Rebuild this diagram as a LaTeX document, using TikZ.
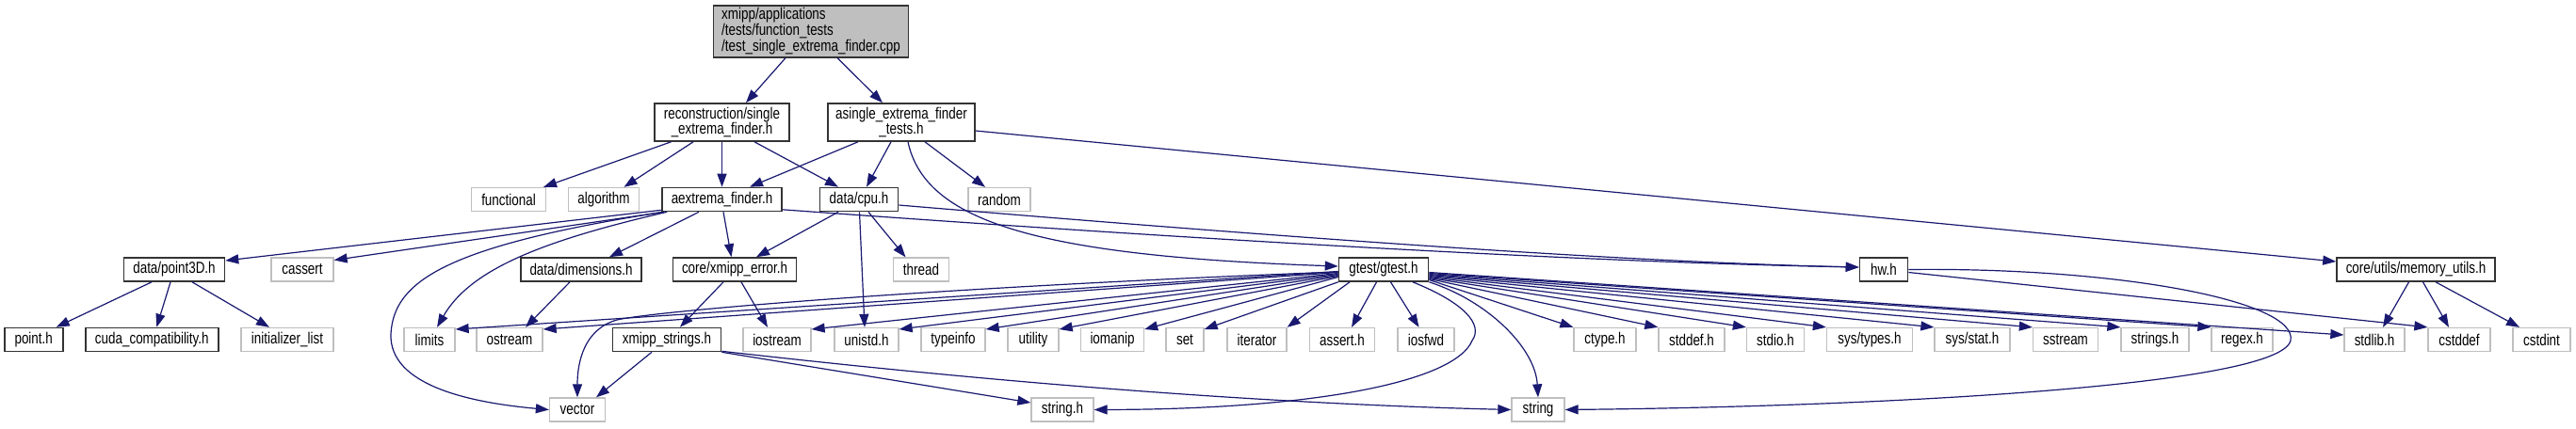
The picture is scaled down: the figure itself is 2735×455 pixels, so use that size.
\documentclass[tikz,border=0pt]{standalone}
\usepackage{fontspec}
\setmainfont{Liberation Sans}[FakeStretch=0.79]
\usetikzlibrary{arrows.meta}
\definecolor{edgeblue}{HTML}{191970}
\definecolor{extgray}{HTML}{BFBFBF}

\begin{document}
\begin{tikzpicture}[x=1pt,y=-1pt,>={Triangle[length=14pt,width=10pt]},
 font=\fontsize{17}{14.4}\selectfont,
 box/.style={draw,rectangle,inner sep=0pt,minimum height=25pt,text=black},
 doc/.style={box,draw=black!80,line width=1.6pt},
 ext/.style={box,draw=extgray,line width=1.3pt},
 dep/.style={->,draw=edgeblue,line width=1.2pt}]
\useasboundingbox[fill=white] (0,0) rectangle (2735,455);

% top file and its direct includes
\node[doc,fill=extgray,minimum width=207pt,minimum height=55pt,align=left] (root) at (861,33.3)
 {xmipp/applications\\/tests/function\_tests\\/test\_single\_extrema\_finder.cpp};
\node[doc,minimum width=143pt,minimum height=40pt,align=center] (recon) at (766.5,130) {reconstruction/single\\\_extrema\_finder.h};
\node[doc,minimum width=156pt,minimum height=40pt,align=center] (asingle) at (957,130) {asingle\_extrema\_finder\\\_tests.h};

\node[ext,minimum width=79pt] (functional) at (540,212) {functional};
\node[ext,minimum width=75pt] (algorithm) at (641,212) {algorithm};
\node[doc,minimum width=127pt] (aextrema) at (766.5,212) {aextrema\_finder.h};
\node[doc,minimum width=83pt] (cpu) at (912,212) {data/cpu.h};
\node[ext,minimum width=66pt] (random) at (1061,212) {random};

\node[doc,minimum width=107pt] (point3d) at (185,286.5) {data/point3D.h};
\node[ext,minimum width=66pt] (cassert) at (321,286.5) {cassert};
\node[doc,minimum width=128pt] (dims) at (617,286.5) {data/dimensions.h};
\node[doc,minimum width=131pt] (xerror) at (780,286.5) {core/xmipp\_error.h};
\node[ext,minimum width=59pt] (thread) at (978,286.5) {thread};
\node[doc,minimum width=95pt] (gtest) at (1469,286.5) {gtest/gtest.h};
\node[doc,minimum width=51pt] (hw) at (2000,286.5) {hw.h};
\node[doc,minimum width=168pt] (memutils) at (2565,286.5) {core/utils/memory\_utils.h};

\node[doc,minimum width=62pt] (pointh) at (35.7,361) {point.h};
\node[doc,minimum width=141pt] (cuda) at (161.3,361) {cuda\_compatibility.h};
\node[doc,minimum width=115pt] (xstrings) at (708,361) {xmipp\_strings.h};
\foreach \n/\x/\w/\t in {initlist/305/98/initializer\_list,limits/456/54/limits,ostream/541/70/ostream,
 iostream/825/72/iostream,unistd/920/68/unistd.h,typeinfo/1012/68/typeinfo,utility/1097/54/utility,
 iomanip/1181/67/iomanip,set/1258/40/set,iterator/1334.5/63/iterator,asserth/1425/69/assert.h,
 iosfwd/1514/60/iosfwd,ctype/1704/66/ctype.h,stddef/1796/70/stddef.h,stdio/1885/61/stdio.h,
 sstream/2193/69/sstream,stringsh/2288/72/strings.h,regex/2380.5/65/regex.h,stdlib/2521/64/stdlib.h,
 cstddef/2611/66/cstddef,cstdint/2698.5/61/cstdint}
 \node[ext,minimum width=\w pt] (\n) at (\x,361) {\t};
\node[ext,minimum width=91pt] (systypes) at (1985,361) {sys/types.h};
\node[ext,minimum width=80pt] (sysstat) at (2094,361) {sys/stat.h};

\node[ext,minimum width=59pt] (vector) at (613,435.5) {vector};
\node[ext,minimum width=66pt] (stringh) at (1128,435.5) {string.h};
\node[ext,minimum width=56pt] (string) at (1633,435.5) {string};

% includes
\draw[dep] ([xshift=-27pt]root.south) -- ([xshift=25.5pt]recon.north);
\draw[dep] ([xshift=28pt]root.south) -- ([xshift=-20pt]asingle.north);
\draw[dep] ([xshift=-54pt]recon.south) -- ([xshift=37pt]functional.north);
\draw[dep] ([xshift=-30.5pt]recon.south) -- ([xshift=21.5pt]algorithm.north);
\draw[dep] (recon.south) -- (aextrema.north);
\draw[dep] ([xshift=34.5pt]recon.south) -- ([xshift=-22pt]cpu.north);
\draw[dep] ([xshift=-46pt]asingle.south) -- ([xshift=29.5pt]aextrema.north);
\draw[dep] ([xshift=-11pt]asingle.south) -- ([xshift=8pt]cpu.north);
\draw[dep] ([xshift=25pt]asingle.south) -- ([xshift=-15pt]random.north);
\draw[dep] ([xshift=7pt]asingle.south) .. controls (982,235) and (1100,272) .. ([yshift=3.5pt]gtest.west);
\draw[dep] ([yshift=-9pt]asingle.east) -- ([yshift=8.5pt]memutils.west);

\draw[dep] ([yshift=2pt]aextrema.south west) -- ([yshift=9.5pt]point3d.east);
\draw[dep] ([xshift=3pt]aextrema.south west) -- ([yshift=10pt]cassert.east);
\draw[dep] ([xshift=6pt]aextrema.south west) .. controls (580,255) and (500,285) .. ([xshift=8pt]limits.north);
\draw[dep] ([xshift=2pt]aextrema.south west) .. controls (470,262) and (418,300) .. (415,355)
 .. controls (413,410) and (500,428) .. (vector.west);
\draw[dep] ([xshift=-24.5pt]aextrema.south) -- ([xshift=30pt]dims.north);
\draw[dep] ([xshift=1.5pt]aextrema.south) -- ([xshift=-3.5pt]xerror.north);
\draw[dep] ([yshift=2.5pt]aextrema.south east) .. controls (1300,257) and (1700,279) .. ([yshift=2.5pt]hw.west);
\draw[dep] ([yshift=-6pt]cpu.east) .. controls (1300,247) and (1700,278) .. ([yshift=2.5pt]hw.west);
\draw[dep] ([xshift=-22pt]cpu.south) -- ([xshift=23pt]xerror.north);
\draw[dep] ([xshift=0.5pt]cpu.south) -- ([xshift=-2pt]unistd.north);
\draw[dep] ([xshift=10pt]cpu.south) -- ([xshift=-16.5pt]thread.north);

\draw[dep] ([xshift=-24pt]point3d.south) -- ([xshift=24pt]pointh.north);
\draw[dep] ([xshift=-4pt]point3d.south) -- ([xshift=5pt]cuda.north);
\draw[dep] ([xshift=19pt]point3d.south) -- ([xshift=-19pt]initlist.north);
\draw[dep] ([xshift=-12pt]dims.south) -- ([xshift=17pt]ostream.north);
\draw[dep] ([xshift=-12pt]xerror.south) -- ([xshift=14pt]xstrings.north);
\draw[dep] ([xshift=7pt]xerror.south) -- ([xshift=-10pt]iostream.north);
\draw[dep] ([xshift=-16pt]xstrings.south) -- ([xshift=20pt]vector.north);
\draw[dep] (xstrings.south east) -- ([yshift=7.5pt]stringh.west);
\draw[dep] ([yshift=1pt]xstrings.south east) .. controls (1000,400) and (1300,428) .. (string.west);

\foreach \n/\s in {limits/-2pt,ostream/-3pt,iostream/-4pt,unistd/-5pt,typeinfo/-6pt,utility/-7pt,iomanip/-8pt}
 \draw[dep] ([yshift=\s]gtest.west) -- ([yshift=11pt]\n.east);
\draw[dep] (gtest.south west) -- ([yshift=11pt]set.east);
\draw[dep] ([yshift=-2.5pt]gtest.west) .. controls (1000,305) and (700,330) .. (655,340)
 .. controls (620,350) and (613,385) .. (vector.north);
\draw[dep] ([xshift=-36pt]gtest.south) -- (iterator.north east);
\draw[dep] ([xshift=-7.5pt]gtest.south) -- ([xshift=10pt]asserth.north);
\draw[dep] ([xshift=7.5pt]gtest.south) -- ([xshift=-7.5pt]iosfwd.north);
\draw[dep] ([xshift=31pt]gtest.south) .. controls (1555,322) and (1575,345) .. (1563,362)
 .. controls (1545,405) and (1400,435) .. (stringh.east);
\draw[dep] (gtest.south east) .. controls (1580,320) and (1630,370) .. (string.north);
\foreach \n/\s in {ctype/-11pt,stddef/-10pt,stdio/-9pt,systypes/-8pt,sysstat/-7pt,sstream/-6pt,stringsh/-5pt,regex/-4pt}
 \draw[dep] ([yshift=\s]gtest.east) -- (\n.north west);
\draw[dep] ([yshift=-3pt]gtest.east) -- ([yshift=5pt]stdlib.west);

\draw[dep] ([yshift=-3pt]hw.east) -- (cstddef.north west);
\draw[dep] (hw.east) .. controls (2250,284) and (2440,320) .. (2432,362)
 .. controls (2420,410) and (2000,432) .. (string.east);
\draw[dep] ([xshift=-7.5pt]memutils.south) -- ([xshift=9pt]stdlib.north);
\draw[dep] ([xshift=7.5pt]memutils.south) -- ([xshift=-11pt]cstddef.north);
\draw[dep] ([xshift=21pt]memutils.south) -- ([xshift=-23.5pt]cstdint.north);
\end{tikzpicture}
\end{document}
